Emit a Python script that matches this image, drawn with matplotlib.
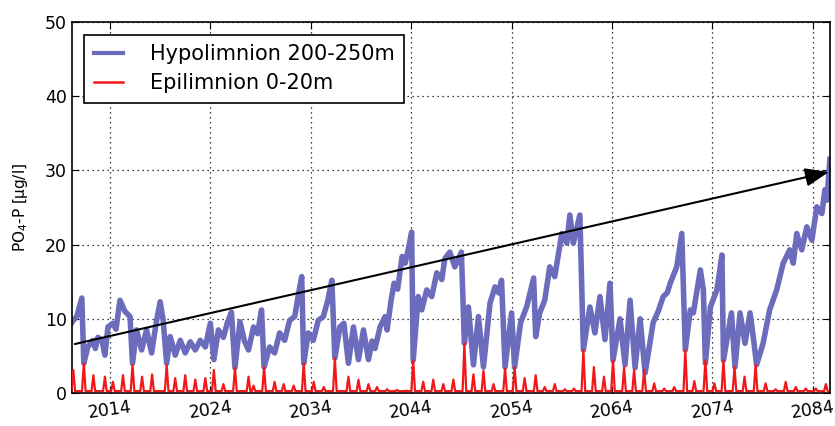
import numpy as np
import matplotlib
matplotlib.use('Agg')
import matplotlib.pyplot as plt

# hypolimnion 200-250m, key points (year, ug/l)
hypo_t = [2010.2, 2010.35, 2010.7, 2011.2, 2011.4, 2011.8, 2012.3, 2012.55, 2012.8, 2013.2,
          2013.5, 2013.8, 2014.3, 2014.6, 2015.0, 2015.5, 2016.0, 2016.25, 2016.65, 2017.15,
          2017.65, 2018.15, 2018.6, 2019.0, 2019.3, 2019.65, 2020.0, 2020.5, 2021.0, 2021.5,
          2022.0, 2022.5, 2023.0, 2023.5, 2024.0, 2024.35, 2024.8, 2025.3, 2025.7, 2026.1,
          2026.45, 2026.95, 2027.4, 2027.8, 2028.3, 2028.7, 2029.1, 2029.35, 2029.9, 2030.4,
          2030.9, 2031.4, 2031.9, 2032.4, 2032.8, 2033.1, 2033.3, 2033.75, 2034.25, 2034.75,
          2035.25, 2035.7, 2036.1, 2036.4, 2036.9, 2037.3, 2037.75, 2038.25, 2038.75, 2039.25,
          2039.75, 2040.1, 2040.4, 2040.9, 2041.4, 2041.6, 2042.0, 2042.3, 2042.65, 2043.1,
          2043.4, 2043.7, 2044.05, 2044.2, 2044.7, 2045.05, 2045.55, 2046.05, 2046.55, 2047.05,
          2047.35, 2047.85, 2048.35, 2049.0, 2049.3, 2049.7, 2050.2, 2050.7, 2051.2, 2051.85,
          2052.35, 2052.7, 2053.0, 2053.35, 2054.0, 2054.3, 2054.9, 2055.5, 2056.2, 2056.4,
          2056.8, 2057.3, 2057.8, 2058.3, 2059.0, 2059.5, 2059.8, 2060.15, 2060.8, 2061.15,
          2061.8, 2062.3, 2062.8, 2063.3, 2063.8, 2064.1, 2064.8, 2065.3, 2065.8, 2066.3,
          2066.8, 2067.3, 2068.1, 2068.6, 2069.1, 2069.5, 2069.8, 2070.45, 2070.95, 2071.3,
          2071.8, 2072.1, 2072.8, 2073.1, 2073.3, 2073.8, 2074.45, 2074.95, 2075.1, 2075.9,
          2076.25, 2076.75, 2077.25, 2077.75, 2078.1, 2078.4, 2079.05, 2079.7, 2080.4, 2081.05,
          2081.7, 2082.05, 2082.4, 2082.9, 2083.4, 2083.9, 2084.4, 2084.9, 2085.2, 2085.4,
          2085.7]
hypo_v = [9.5, 9.8, 10.3, 12.8, 4.0, 6.2, 7.1, 6.0, 7.5, 7.1,
          5.1, 8.9, 9.4, 8.6, 12.5, 11.0, 10.3, 4.0, 8.5, 5.8,
          8.5, 5.4, 9.4, 12.3, 9.8, 4.0, 7.6, 5.1, 7.1, 5.4,
          6.9, 5.8, 7.1, 6.2, 9.4, 4.5, 8.5, 7.5, 9.5, 10.9,
          3.4, 9.6, 7.0, 5.8, 8.9, 8.0, 11.2, 3.5, 6.2, 5.4,
          8.1, 7.1, 9.8, 10.3, 13.5, 15.7, 4.0, 8.1, 7.1, 9.8,
          10.3, 12.5, 15.2, 4.7, 8.9, 9.4, 4.0, 8.9, 4.5, 8.5,
          4.5, 7.0, 6.0, 8.9, 10.3, 8.5, 12.5, 14.8, 14.0, 18.4,
          17.5, 19.3, 21.7, 4.4, 13.0, 11.2, 13.9, 13.0, 16.2, 15.3,
          18.1, 19.0, 17.0, 19.0, 6.7, 11.6, 3.8, 10.3, 3.5, 12.1,
          14.3, 13.5, 15.2, 3.5, 10.8, 3.5, 9.5, 11.6, 15.5, 7.6,
          10.8, 12.5, 17.0, 15.7, 21.5, 20.2, 24.0, 20.2, 24.0, 5.8,
          11.6, 8.1, 13.0, 7.2, 14.8, 4.4, 10.0, 3.8, 12.5, 3.4,
          10.0, 2.7, 9.5, 11.0, 13.0, 13.5, 14.8, 17.0, 21.5, 5.8,
          11.2, 10.8, 16.6, 13.9, 4.0, 11.6, 13.9, 18.6, 4.4, 10.8,
          3.5, 10.8, 6.7, 10.8, 7.2, 3.8, 6.7, 11.2, 13.9, 17.5,
          19.3, 17.5, 21.5, 19.3, 22.4, 20.6, 25.1, 24.2, 27.4, 26.0,
          31.5]

# epilimnion 0-20m, one spike per year (year, peak ug/l)
epi_t = [2010.35, 2011.4, 2012.35, 2013.5, 2014.3, 2015.3, 2016.25, 2017.2, 2018.2, 2019.65,
         2020.5, 2021.5, 2022.5, 2023.5, 2024.35, 2025.3, 2026.45, 2027.8, 2028.3, 2029.35,
         2030.4, 2031.3, 2032.3, 2033.3, 2034.3, 2035.3, 2036.4, 2037.75, 2038.75, 2039.75,
         2040.6, 2041.6, 2042.6, 2043.5, 2044.2, 2045.2, 2046.2, 2047.2, 2048.2, 2049.3,
         2050.2, 2051.2, 2052.2, 2053.35, 2054.3, 2055.3, 2056.4, 2057.3, 2058.3, 2059.3,
         2060.2, 2061.15, 2062.2, 2063.2, 2064.1, 2065.2, 2066.2, 2067.2, 2068.2, 2069.2,
         2070.2, 2071.3, 2072.2, 2073.3, 2074.2, 2075.1, 2076.2, 2077.2, 2078.3, 2079.3,
         2080.3, 2081.3, 2082.3, 2083.3, 2084.3, 2085.3]
epi_v = [3.1, 4.0, 2.4, 2.2, 1.5, 2.4, 3.8, 2.2, 2.5, 3.8,
         2.0, 2.4, 1.8, 2.0, 3.1, 1.2, 3.4, 2.2, 1.0, 3.5,
         1.5, 1.2, 1.0, 4.0, 1.5, 0.8, 4.7, 2.2, 1.8, 1.2,
         0.8, 0.5, 0.4, 0.3, 4.4, 1.5, 1.8, 1.2, 1.8, 6.7,
         2.5, 3.0, 1.2, 3.3, 3.5, 2.0, 2.4, 0.8, 1.2, 0.5,
         0.6, 5.8, 3.5, 2.2, 4.4, 3.5, 3.1, 3.1, 1.3, 0.6,
         0.8, 5.8, 1.6, 4.4, 1.3, 4.4, 3.5, 2.2, 3.8, 1.3,
         0.5, 1.5, 0.8, 0.6, 0.6, 1.2]
epi_base = 0.25

# spike shape around each peak
et, ev = [], []
for t, v in zip(epi_t, epi_v):
    et += [t - 0.18, t, t + 0.18]
    ev += [epi_base, v, epi_base]

fig = plt.figure(figsize=(8.35, 4.26), dpi=100)
ax = fig.add_axes([0.0862, 0.0775, 0.9078, 0.8705])

ax.plot(hypo_t, hypo_v, color='#6c6cbc', lw=4, label='Hypolimnion 200-250m', zorder=2)
ax.plot(et, ev, color='#f01818', lw=1.6, label='Epilimnion 0-20m', zorder=3)

ax.annotate('', xy=(2085.6, 29.8), xytext=(2010.5, 6.6),
            arrowprops=dict(arrowstyle='-|>,head_length=0.9,head_width=0.35',
                            mutation_scale=16, color='black', lw=1.5,
                            shrinkA=0, shrinkB=0), zorder=5)

ax.set_xlim(2010.22, 2085.71)
ax.set_ylim(0, 50)
ax.set_xticks([2014, 2024, 2034, 2044, 2054, 2064, 2074, 2084])
ax.set_yticks([0, 10, 20, 30, 40, 50])
ax.tick_params(direction='in', top=True, right=True, labelsize=12.5, length=5)
for lab in ax.get_xticklabels():
    lab.set_rotation(8)
ax.grid(True, color='black', linestyle=(0, (1, 3)), lw=0.9)
for s in ax.spines.values():
    s.set_linewidth(1.2)

ax.set_ylabel('PO$_4$-P [µg/l]', fontsize=11)
ax.yaxis.set_label_coords(-0.056, 0.5)

leg = ax.legend(loc='upper left', fontsize=15, fancybox=False, framealpha=1,
                edgecolor='black', handlelength=1.4, labelspacing=0.45,
                borderaxespad=0.6, handletextpad=1.3, borderpad=0.45)
leg.get_frame().set_linewidth(1.2)
leg.get_lines()[0].set_linewidth(3)
leg.get_lines()[1].set_linewidth(1.8)

fig.savefig('out.png', dpi=100)
